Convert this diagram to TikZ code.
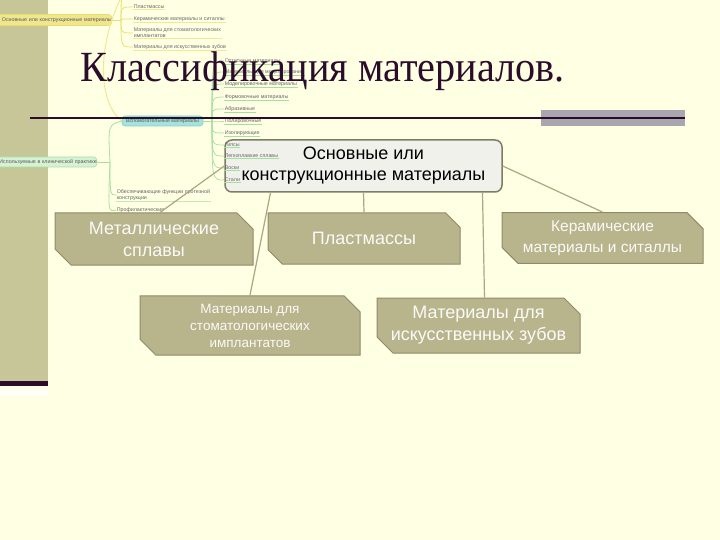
\documentclass[tikz,border=0pt]{standalone}
\usepackage{fontspec}
\setmainfont{Liberation Sans}
\newfontfamily\titlefont{Liberation Serif}
\usetikzlibrary{shapes.misc}
\definecolor{paper}{HTML}{FFFFE4}
\definecolor{strip}{HTML}{C6C699}
\definecolor{plum}{HTML}{2B0D2B}
\definecolor{slate}{HTML}{A9A6B0}
\definecolor{khaki}{HTML}{B8B48C}
\definecolor{khakidark}{HTML}{8E8B68}
\definecolor{frame}{HTML}{7E7C66}
\definecolor{boxgrey}{HTML}{F1F1EC}
\definecolor{linkcol}{HTML}{ABA783}
\definecolor{mmyellow}{HTML}{EBDD6A}
\definecolor{mmgreen}{HTML}{A6E0A0}
\definecolor{mmteal}{HTML}{7ED6CC}

\begin{document}
\begin{tikzpicture}[
          x=1pt,y=-1pt,
          every node/.style={inner sep=0pt},
          mainbox/.style={draw=frame,line width=1.5pt,rounded corners=7pt,fill=boxgrey,
                          minimum width=277pt,minimum height=52pt,align=center,
                          font=\fontsize{18}{21}\selectfont},
          cutbox/.style={chamfered rectangle,
                         chamfered rectangle corners={north east,south west},
                         chamfered rectangle xsep=8pt,chamfered rectangle ysep=8pt,
                         draw=khakidark,line width=1pt,fill=khaki,text=white!94!khaki,
                         align=center,font=\fontsize{18}{22}\selectfont},
          linkline/.style={draw=linkcol,line width=1.2pt},
          mmtext/.style={anchor=west,font=\fontsize{5.3}{6}\selectfont,text=black!60,
                         align=left,inner sep=0.6pt},
          mmnode/.style={rounded corners=3pt,line width=0.6pt,
                         font=\fontsize{5.3}{6}\selectfont,text=black!65},
      ]
        \useasboundingbox (0,0) rectangle (720,540);
        \fill[paper] (0,0) rectangle (720,540);
        \fill[strip] (0,0) rectangle (48,381);
        \fill[plum] (0,381) rectangle (48,386);
        \fill[white!70!paper] (0,389) rectangle (48,396);

        \node[mainbox] (main) at (363.5,166) {Основные или\\конструкционные материалы};

        % faint mind map behind the slide
        \node[mmnode,fill=mmyellow!75,draw=mmyellow,anchor=east,
              text width=130pt,align=right,minimum height=11pt] (basic) at (112,20)
              {Основные или конструкционные материалы};
        \coordinate (yj) at (121,20);
        \coordinate (ytop) at (124,-8);
        \draw[mmyellow,line width=0.8pt] (basic.east) -- (yj);
        \draw[mmyellow,line width=0.8pt] (yj) .. controls (121,0) .. (ytop);
        \foreach \yy/\txt [count=\i] in {7/Пластмассы,19/Керамические материалы и ситаллы,
            33/{Материалы для стоматологических\\имплантатов},47/Материалы для искусственных зубов}{
          \node[mmtext] (b\i) at (133,\yy) {\txt};
          \draw[mmyellow!70,line width=0.5pt] (b\i.south west) -- (b\i.south east);
          \draw[mmyellow,line width=0.7pt] (yj) .. controls (121,\yy) .. (b\i.west);
        }

        \node[mmnode,fill=mmteal!70,draw=mmteal,minimum width=81pt,minimum height=10pt]
              (aux) at (162.5,121) {Вспомогательные материалы};
        \draw[mmyellow!70,line width=1pt] (ytop) .. controls (98,40) and (96,100) .. (aux.west);
        \coordinate (spine) at (212,121);
        \draw[mmgreen,line width=0.8pt] (aux.east) -- (spine);
        \foreach \yy/\txt [count=\i] in {61/Оттискные материалы,72/Материалы для моделирования,
            84/Моделировочные материалы,97/Формовочные материалы,109/Абразивные,
            121/Полировочные,133/Изолирующие,145/Гипсы,156/Легкоплавкие сплавы,
            168/Воски,180/Стали}{
          \node[mmtext] (a\i) at (224,\yy) {\txt};
          \draw[mmgreen,line width=0.5pt] (a\i.south west) -- (a\i.south east);
          \draw[mmgreen,line width=0.7pt] (spine) .. controls (212,\yy) .. (a\i.west);
        }

        \node[mmnode,fill=mmgreen!45,draw=mmgreen,anchor=east,
              text width=118pt,align=right,minimum height=10pt] (clinic) at (97,162)
              {Используемые в клинической практике};
        \coordinate (gj) at (110,162);
        \draw[mmgreen,line width=0.8pt] (clinic.east) -- (gj);
        \draw[mmgreen,line width=0.8pt] (gj) .. controls (108,125) .. (aux.west);
        \node[mmtext] (func) at (116,195) {Обеспечивающие функции протезной\\конструкции};
        \node[mmtext] (prof) at (116,210) {Профилактические};
        \draw[mmgreen,line width=0.8pt] (gj) .. controls (110,195) .. (func.west);
        \draw[mmgreen,line width=0.8pt] (gj) .. controls (108,212) .. (prof.west);
        \draw[mmgreen!70,line width=0.5pt] (func.south west) -- (func.south east);
        \draw[mmgreen!70,line width=0.5pt] (prof.south west) -- (prof.south east);

        \node[anchor=base west,text=plum,font=\titlefont\fontsize{43}{43}\selectfont]
              (title) at (80,82) {\scalebox{0.935}[1]{Классификация материалов.}};
        \fill[slate] (541,110) rectangle (685,126);
        \draw[plum,line width=2pt] (30,118) -- (685,118);

        \node[cutbox,minimum width=198pt,minimum height=52pt] (metal) at (154,239)
              {Металлические\\сплавы};
        \node[cutbox,minimum width=192pt,minimum height=51pt] (plast) at (364,238.5)
              {Пластмассы};
        \node[cutbox,minimum width=201pt,minimum height=50pt,
              font=\fontsize{15.5}{21}\selectfont] (ceram) at (602.5,238)
              {Керамические\\материалы и ситаллы};
        \node[cutbox,minimum width=220pt,minimum height=55pt,
              font=\fontsize{13.5}{17}\selectfont] (impl) at (250,325.5)
              {Материалы для\\стоматологических\\имплантатов};
        \node[cutbox,minimum width=203pt,minimum height=55pt] (teeth) at (478.5,325.5)
              {Материалы для\\искусственных зубов};

        \draw[linkline] (main.west) -- ([xshift=6pt]metal.north);
        \draw[linkline] (main.south) -- (plast.north);
        \draw[linkline] ([xshift=-93pt]main.south) -- (impl.north);
        \draw[linkline] ([xshift=119pt]main.south) -- ([xshift=6pt]teeth.north);
        \draw[linkline] (main.east) -- (ceram.north);
      \end{tikzpicture}
\end{document}
